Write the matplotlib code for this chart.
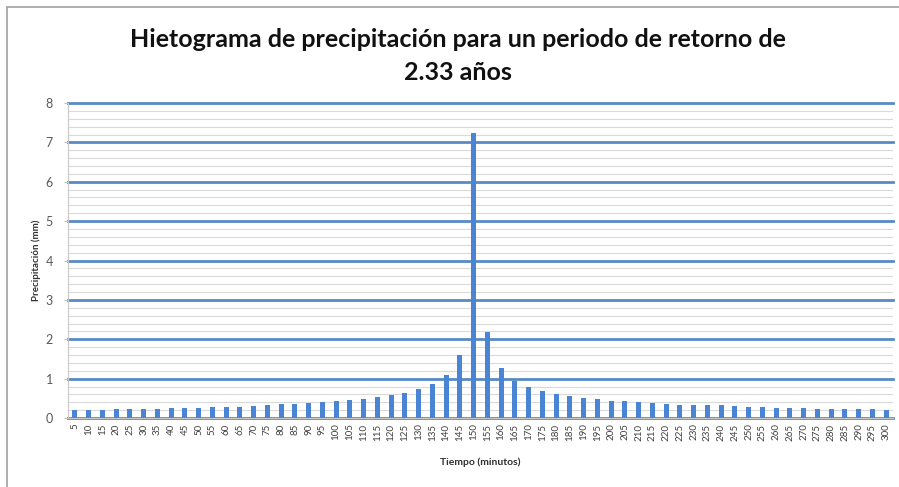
import matplotlib.pyplot as plt
import numpy as np
from matplotlib.patches import Rectangle

minutos = list(range(5, 305, 5))
precip = [0.20, 0.20, 0.21, 0.22, 0.22, 0.23, 0.24, 0.25, 0.25, 0.26,
          0.27, 0.28, 0.29, 0.30, 0.32, 0.35, 0.36, 0.38, 0.41, 0.42,
          0.45, 0.48, 0.53, 0.58, 0.64, 0.74, 0.87, 1.09, 1.60, 7.25,
          2.18, 1.26, 0.95, 0.78, 0.68, 0.61, 0.56, 0.51, 0.47, 0.44,
          0.42, 0.40, 0.38, 0.36, 0.34, 0.33, 0.33, 0.32, 0.31, 0.29,
          0.27, 0.26, 0.25, 0.25, 0.24, 0.24, 0.22, 0.22, 0.22, 0.21]
etiquetas = [str(m) for m in minutos]

titulo = 'Hietograma de precipitación para un periodo de retorno de\n2.33 años'

plt.rcParams['font.family'] = ['Lato', 'DejaVu Sans']

fig = plt.figure(figsize=(8.99, 4.87), dpi=100)
ax = fig.add_axes([68/899, 1 - 418/487, 825/899, 315/487])

x = np.arange(len(minutos))
ax.bar(x, precip, width=0.38, color='#4A84D4', zorder=3)

ax.set_xlim(-0.5, len(minutos) - 0.5)
ax.set_ylim(0, 8)
ax.set_yticks(range(0, 9))
ax.set_yticks(np.arange(0, 8.01, 0.2), minor=True)
ax.grid(axis='y', which='major', color='#5A8AC6', linewidth=2.0, zorder=1)
ax.grid(axis='y', which='minor', color='#DADADA', linewidth=0.8, zorder=0)
for gl in ax.get_ygridlines():
    gl.set_clip_on(False)
ax.set_xticks(x)
ax.set_xticklabels(etiquetas, rotation=90, fontsize=7, color='#404040')
ax.tick_params(axis='x', length=0, pad=4)
ax.tick_params(axis='y', which='major', length=3, color='#BFBFBF', labelsize=9,
               labelcolor='#595959', pad=8)
ax.tick_params(axis='y', which='minor', length=0)

for s in ['top', 'right']:
    ax.spines[s].set_visible(False)
ax.spines['left'].set_color('#C8C8C8')
ax.spines['bottom'].set_color('#C8C8C8')
ax.spines['bottom'].set_zorder(2)

ax.set_xlabel('Tiempo (minutos)', fontsize=7.5, fontweight='bold', color='#303030', labelpad=12)
ax.set_ylabel('Precipitación (mm)', fontsize=7, fontweight='bold', color='#303030', labelpad=3)

fig.text(458/899, 1 - 56/487, titulo, ha='center', va='center', fontsize=18,
         fontweight='bold', linespacing=1.5, color='#111111')

fig.patches.append(Rectangle((7/899, -0.1), 1.2, 1 - 7/487 + 0.1, transform=fig.transFigure,
                             fill=False, edgecolor='#A0A0A0', linewidth=1.2))

fig.savefig('out.png', dpi=100)
